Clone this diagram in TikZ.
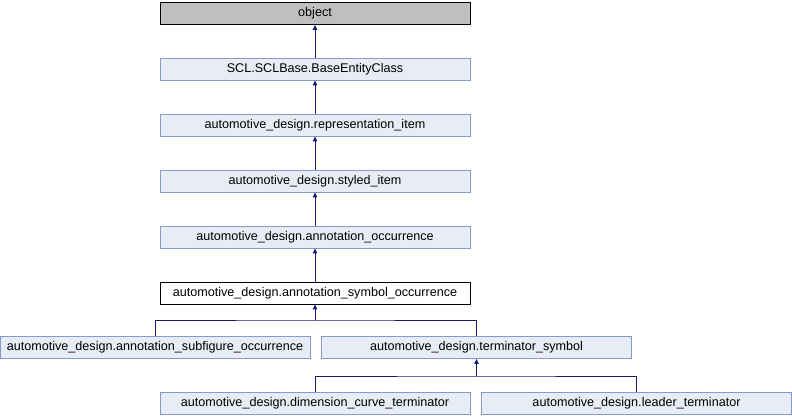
\documentclass[tikz,border=0pt]{standalone}
\usepackage{fontspec}
\setmainfont{Liberation Sans}
\usetikzlibrary{arrows.meta}
\definecolor{clsfill}{RGB}{232,236,245}
\definecolor{clsdraw}{RGB}{132,155,204}
\definecolor{edgeblue}{RGB}{25,25,120}
\tikzset{cls/.style={draw=clsdraw,fill=clsfill,line width=0.8pt,minimum width=310pt,
    minimum height=22pt,inner sep=0pt,font=\fontsize{12.6}{14}\selectfont},
  inh/.style={edgeblue,line width=0.9pt,-{Triangle[length=5pt,width=4.5pt]}}}
\begin{document}
\begin{tikzpicture}[x=1pt,y=-1pt]
    \useasboundingbox (0,0) rectangle (792,416);
    \node[cls,fill=black!25,draw=black] (obj) at (315,13.5) {object};
    \foreach \n/\y/\t in {scl/69/SCL.SCLBase.BaseEntityClass,
      repitem/125/automotive\_design.representation\_item,
      styled/181/automotive\_design.styled\_item,
      annocc/237/automotive\_design.annotation\_occurrence} {
      \node[cls] (\n) at (315,\y) {\t}; }
    \node[cls,fill=white,draw=black] (symocc) at (315,293) {automotive\_design.annotation\_symbol\_occurrence};
    \node[cls] (subfig) at (155,347.5) {automotive\_design.annotation\_subfigure\_occurrence};
    \node[cls] (termsym) at (476.5,347.5) {automotive\_design.terminator\_symbol};
    \node[cls] (dimcurve) at (315,403.5) {automotive\_design.dimension\_curve\_terminator};
    \node[cls] (leader) at (636.5,403.5) {automotive\_design.leader\_terminator};
    \draw[inh] (scl) -- (obj); \draw[inh] (repitem) -- (scl);
    \draw[inh] (styled) -- (repitem); \draw[inh] (annocc) -- (styled);
    \draw[inh] (symocc) -- (annocc);
    \coordinate (fork1) at (315,320); \coordinate (fork2) at (476.5,376);
    \draw[edgeblue,line width=0.9pt] (subfig.north) |- (fork1) -| (termsym.north);
    \draw[inh] (fork1) -- (symocc.south);
    \draw[edgeblue,line width=0.9pt] (dimcurve.north) |- (fork2) -| (leader.north);
    \draw[inh] (fork2) -- (termsym.south);
  \end{tikzpicture}
\end{document}
